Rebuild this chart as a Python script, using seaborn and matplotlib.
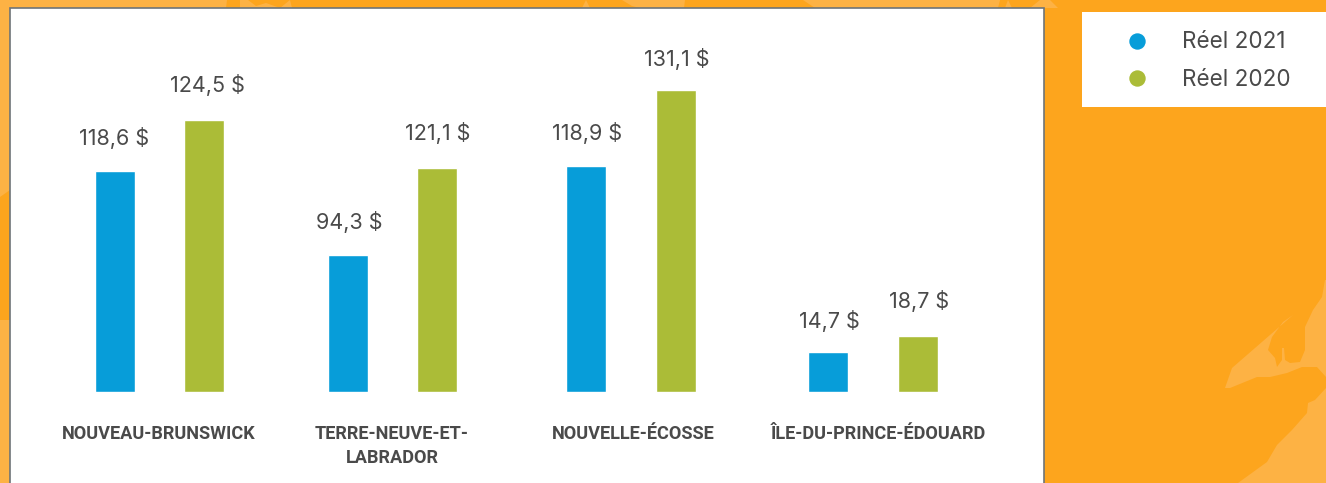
import matplotlib
matplotlib.use('Agg')
import matplotlib.pyplot as plt
import seaborn as sns
import pandas as pd
from matplotlib.lines import Line2D
from matplotlib.patches import Polygon, Rectangle

# provinces et montants affiches
provinces = ['NOUVEAU-BRUNSWICK', 'TERRE-NEUVE-ET-\nLABRADOR', 'NOUVELLE-ÉCOSSE', 'ÎLE-DU-PRINCE-ÉDOUARD']
series = ['Réel 2021', 'Réel 2020']
labels_2021 = ['118,6 $', '94,3 $', '118,9 $', '14,7 $']
labels_2020 = ['124,5 $', '121,1 $', '131,1 $', '18,7 $']
# hauteurs (pas proportionnelles aux montants affiches)
heights_2021 = [96.2, 59.6, 98.4, 17.4]
heights_2020 = [118.4, 97.5, 131.5, 24.4]

W, H = 1326, 483
BLUE, GREEN, TEXT = '#079DD9', '#ABBC37', '#4A4A4A'
ORANGE, LIGHT = '#FDA51D', '#FDB244'

sns.set_theme(style='white')
plt.rcParams['font.family'] = ['Inter', 'DejaVu Sans']

df = pd.DataFrame({
    'province': provinces * 2,
    'serie': [series[0]] * 4 + [series[1]] * 4,
    'valeur': heights_2021 + heights_2020,
})


def fx(x):
    return x / W


def fy(y):
    return 1 - y / H


fig = plt.figure(figsize=(W / 100, H / 100), dpi=100, facecolor=ORANGE)

# fond : carte plus claire
shapes = [
    [(0, 0), (227, 0), (226, 8), (0, 8)],
    [(240, 0), (248, 0), (256, 6), (266, 3), (280, 8), (290, 0), (292, 8), (240, 8)],
    [(582, 8), (586, 0), (590, 8)],
    [(622, 0), (685, 0), (684, 8), (640, 8), (632, 6)],
    [(803, 0), (1000, 0), (998, 8), (815, 8)],
    [(1005, 8), (1008, 0), (1012, 8)],
    [(1030, 8), (1040, 0), (1050, 0), (1058, 8)],
    [(0, 0), (10, 0), (10, 190), (0, 197)],
    [(0, 320), (10, 320), (10, 483), (0, 483)],
    [(1293, 315), (1232, 368), (1225, 388), (1230, 388), (1257, 377), (1270, 377), (1287, 373),
     (1302, 367), (1317, 367), (1326, 377), (1326, 280), (1325, 280), (1322, 297), (1313, 310),
     (1305, 327), (1305, 350), (1300, 362), (1290, 363), (1285, 360), (1284, 348), (1282, 348),
     (1282, 360), (1277, 367), (1275, 358), (1268, 350), (1272, 337), (1283, 322)],
    [(1326, 388), (1315, 400), (1308, 403), (1307, 413), (1292, 430), (1277, 445), (1267, 462),
     (1238, 483), (1326, 483)],
]
for pts in shapes:
    fig.add_artist(Polygon([(fx(x), fy(y)) for x, y in pts], closed=True, fc=LIGHT, ec='none',
                           transform=fig.transFigure, zorder=-2))

# panneau blanc et boite de legende
fig.add_artist(Rectangle((fx(10), -0.05), fx(1034), fy(8) + 0.05, fc='white', ec='#6E7478', lw=1.2,
                         transform=fig.transFigure, zorder=-1))
fig.add_artist(Rectangle((fx(1082), fy(107)), fx(250), (107 - 12) / H, fc='white', ec='none',
                         transform=fig.transFigure, zorder=-1))

ax = fig.add_axes([fx(11), fy(392), fx(1032), (392 - 9) / H])
ax.patch.set_alpha(0)
sns.barplot(data=df, x='province', y='valeur', hue='serie', hue_order=series,
            palette=[BLUE, GREEN], saturation=1, width=0.55, gap=0.0, legend=False, ax=ax)

ax.set_ylim(0, 383 / 2.296)
ax.set_xlim(-0.5, 3.5)
sns.despine(ax=ax, left=True, bottom=True)
ax.set_yticks([])
ax.set_xlabel('')
ax.set_ylabel('')

# recale les barres sur l'image (bords gauches en pixels)
lefts = [96, 329, 567, 809, 185, 418, 657, 899]
px = (ax.get_xlim()[1] - ax.get_xlim()[0]) / 1032
bars = ax.patches[:8]
for bar, left in zip(bars, lefts):
    bar.set_x((left - 12) * px + ax.get_xlim()[0])
    bar.set_width(39.5 * px)

# decalage des montants au-dessus des barres, en pixels
gaps = [33, 33, 33, 31, 35, 35, 31, 35]
for bar, lab, cx, gap in zip(bars, labels_2021 + labels_2020,
                             [114.5, 349, 587, 829, 207, 438, 677, 919], gaps):
    ax.annotate(lab, ((cx - 11) * px + ax.get_xlim()[0], bar.get_height()), xytext=(0, gap * 0.72),
                textcoords='offset points', ha='center', va='center', fontsize=15.5, color=TEXT)

centers = [(x - 11) * px + ax.get_xlim()[0] for x in [159, 392, 633, 878]]
ax.set_xticks(centers)
ax.set_xticklabels(provinces, family=['Roboto', 'DejaVu Sans'], fontweight='bold', fontsize=13.1,
                   color=TEXT, linespacing=1.42)
ax.tick_params(axis='x', length=0, pad=23.5)

handles = [Line2D([], [], ls='none', marker='o', ms=11.8, mfc=c, mec='none') for c in (BLUE, GREEN)]
fig.legend(handles, series, loc='upper left', bbox_to_anchor=(fx(1114), fy(31.5)), frameon=False,
           fontsize=16.2, labelcolor=TEXT, handlelength=2.04, handletextpad=0.98, labelspacing=0.7,
           borderpad=0, borderaxespad=0)

fig.savefig('out.png', dpi=100, facecolor=ORANGE)
